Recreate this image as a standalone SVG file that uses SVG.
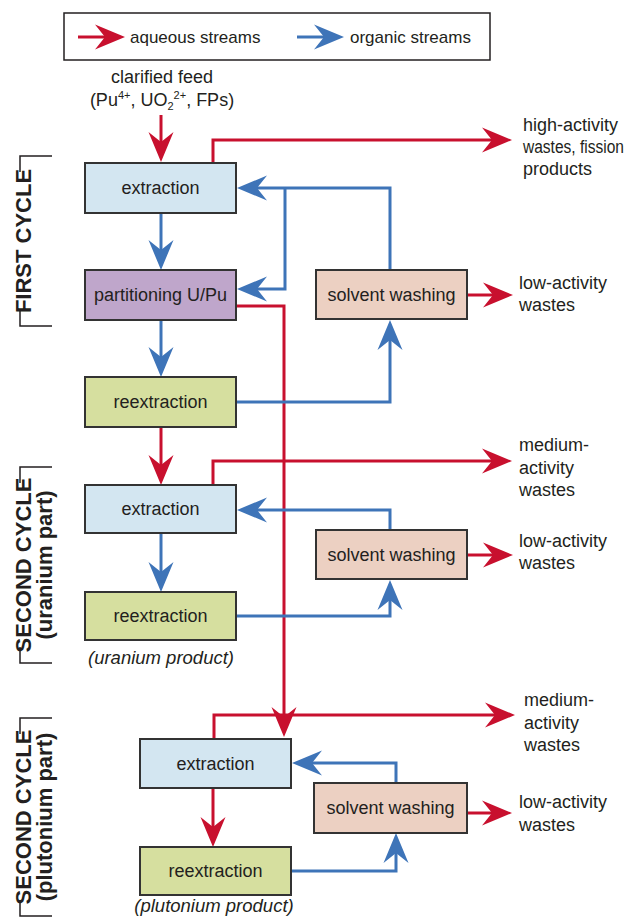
<svg xmlns="http://www.w3.org/2000/svg" width="640" height="922" viewBox="0 0 640 922">
<style>
  text { font-family: "Liberation Sans", Arial, sans-serif; fill: #231f20; }
  .lbl { font-size: 18px; text-anchor: middle; }
  .side { font-size: 18px; }
  .leg { font-size: 17px; }
  .it { font-size: 18.5px; font-style: italic; text-anchor: middle; }
  .cyc { font-size: 22px; font-weight: bold; text-anchor: middle; }
  .box { stroke: #333333; stroke-width: 2; }
  .ext { fill: #d3e6f1; }
  .part { fill: #bfa6cb; }
  .sw { fill: #ecd0c2; }
  .reext { fill: #d6df9f; }
  .red { fill: none; stroke: #c8102e; stroke-width: 3; marker-end: url(#ar); }
  .blue { fill: none; stroke: #3e74b8; stroke-width: 3; marker-end: url(#ab); }
  .br { fill: none; stroke: #231f20; stroke-width: 1.5; }
</style>
<defs>
  <marker id="ar" markerUnits="userSpaceOnUse" markerWidth="32" markerHeight="26" viewBox="0 -13 32 26" refX="10" refY="0" orient="auto" overflow="visible">
    <path d="M0,-12.5 L30,0 L0,12.5 L10,0 Z" fill="#c8102e"/>
  </marker>
  <marker id="ab" markerUnits="userSpaceOnUse" markerWidth="32" markerHeight="26" viewBox="0 -13 32 26" refX="10" refY="0" orient="auto" overflow="visible">
    <path d="M0,-12.5 L30,0 L0,12.5 L10,0 Z" fill="#3e74b8"/>
  </marker>
</defs>

<g id="legend">
  <rect x="64" y="13" width="426" height="47" fill="#ffffff" stroke="#231f20" stroke-width="1.5"/>
  <path class="red" d="M78,37 H105"/>
  <text class="leg" x="130" y="43">aqueous streams</text>
  <path class="blue" d="M297,37 H324"/>
  <text class="leg" x="350" y="43">organic streams</text>
</g>

<g id="feed-label">
  <text class="lbl" x="162" y="83">clarified feed</text>
  <text class="lbl" x="162" y="106">(Pu<tspan font-size="11" dy="-7">4+</tspan><tspan dy="7">, UO</tspan><tspan font-size="11" dy="4">2</tspan><tspan font-size="11" dy="-11">2+</tspan><tspan dy="7">, FPs)</tspan></text>
</g>

<g id="connectors">
  <path class="red" d="M161,115 V142"/>
  <path class="red" d="M213,163 V140 H492"/>
  <path class="blue" d="M390,270 V188 H257"/>
  <path class="blue" d="M285,188 V289 H257"/>
  <path class="blue" d="M161,213 V250"/>
  <path class="blue" d="M161,320 V357"/>
  <path class="red" d="M236,306 H284 V717"/>
  <path class="red" d="M467,295 H493"/>
  <path class="blue" d="M236,402 H390 V340"/>
  <path class="red" d="M161,427 V465"/>
  <path class="red" d="M213,485 V461 H492"/>
  <path class="blue" d="M390,530 V510 H257"/>
  <path class="red" d="M467,555 H493"/>
  <path class="blue" d="M161,533 V572"/>
  <path class="blue" d="M236,616 H390 V600"/>
  <path class="red" d="M214,739 V715 H495"/>
  <path class="blue" d="M396,783 V763 H312"/>
  <path class="red" d="M467,813 H492"/>
  <path class="red" d="M213,788 V827"/>
  <path class="blue" d="M291,871 H396 V853"/>
</g>

<g id="ext1"><rect class="box ext" x="85" y="163" width="151" height="50"/><text class="lbl" x="160.5" y="194">extraction</text></g>
<g id="part"><rect class="box part" x="85" y="270" width="151" height="50"/><text class="lbl" x="160.5" y="301">partitioning U/Pu</text></g>
<g id="reext1"><rect class="box reext" x="85" y="377" width="151" height="50"/><text class="lbl" x="160.5" y="408">reextraction</text></g>
<g id="sw1"><rect class="box sw" x="316" y="270" width="151" height="49"/><text class="lbl" x="391.5" y="301">solvent washing</text></g>

<g id="ext2"><rect class="box ext" x="85" y="485" width="151" height="48"/><text class="lbl" x="160.5" y="515">extraction</text></g>
<g id="sw2"><rect class="box sw" x="316" y="530" width="151" height="49"/><text class="lbl" x="391.5" y="561">solvent washing</text></g>
<g id="reext2"><rect class="box reext" x="85" y="592" width="151" height="48"/><text class="lbl" x="160.5" y="622">reextraction</text></g>

<g id="ext3"><rect class="box ext" x="140" y="739" width="151" height="49"/><text class="lbl" x="215.5" y="770">extraction</text></g>
<g id="sw3"><rect class="box sw" x="314" y="783" width="153" height="50"/><text class="lbl" x="390.5" y="814">solvent washing</text></g>
<g id="reext3"><rect class="box reext" x="140" y="847" width="151" height="48"/><text class="lbl" x="215.5" y="877">reextraction</text></g>

<g id="outputs">
  <text class="side" x="523" y="131">high-activity</text>
  <text class="side" x="523" y="153" font-size="16.5" textLength="101" lengthAdjust="spacingAndGlyphs">wastes, fission</text>
  <text class="side" x="523" y="175">products</text>
  <text class="side" x="519" y="289">low-activity</text>
  <text class="side" x="519" y="311">wastes</text>
  <text class="side" x="519" y="451">medium-</text>
  <text class="side" x="519" y="474">activity</text>
  <text class="side" x="519" y="496">wastes</text>
  <text class="side" x="519" y="547">low-activity</text>
  <text class="side" x="519" y="569">wastes</text>
  <text class="side" x="524" y="706">medium-</text>
  <text class="side" x="524" y="729">activity</text>
  <text class="side" x="524" y="751">wastes</text>
  <text class="side" x="519" y="808">low-activity</text>
  <text class="side" x="519" y="831">wastes</text>
  <text class="it" x="161" y="664">(uranium product)</text>
  <text class="it" x="214" y="912">(plutonium product)</text>
</g>

<g id="cycle1">
  <path class="br" d="M52,156 H20 V172 M20,310 V326 H52"/>
  <text class="cyc" transform="translate(31,241) rotate(-90)">FIRST CYCLE</text>
</g>
<g id="cycle2u">
  <path class="br" d="M52,467 H20 V483 M20,647 V663 H52"/>
  <text class="cyc" transform="translate(31,565) rotate(-90)">SECOND CYCLE</text>
  <text class="cyc" transform="translate(52,565) rotate(-90)">(uranium part)</text>
</g>
<g id="cycle2p">
  <path class="br" d="M52,718 H20 V734 M20,900 V916 H52"/>
  <text class="cyc" transform="translate(31,817) rotate(-90)">SECOND CYCLE</text>
  <text class="cyc" transform="translate(52,817) rotate(-90)">(plutonium part)</text>
</g>
</svg>
